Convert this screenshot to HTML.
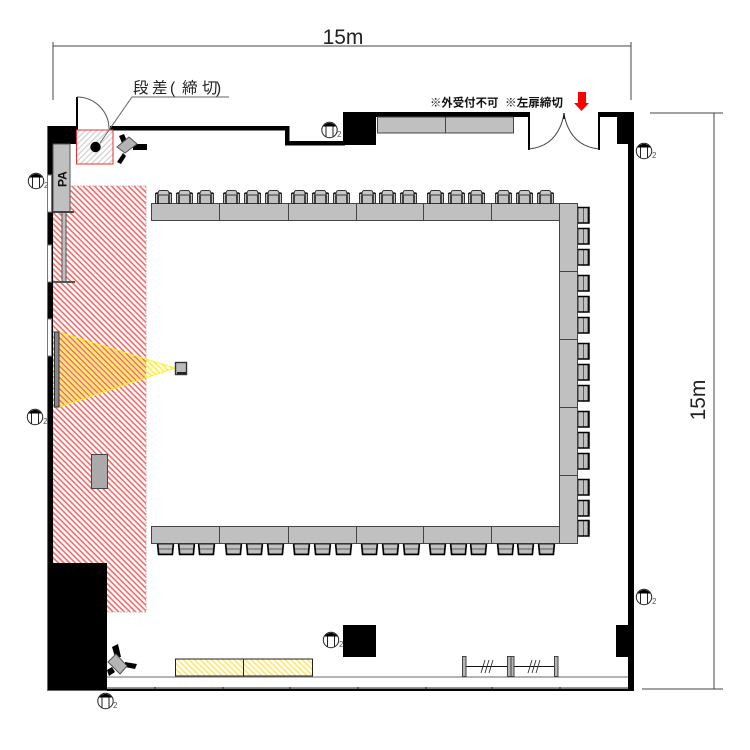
<!DOCTYPE html>
<html>
<head>
<meta charset="utf-8">
<style>
html,body{margin:0;padding:0;background:#fff;width:750px;height:750px;overflow:hidden}
svg{display:block}
text{font-family:"Liberation Sans","Noto Sans CJK JP",sans-serif}
</style>
</head>
<body>
<svg width="750" height="750" viewBox="0 0 750 750" xmlns="http://www.w3.org/2000/svg">
<defs>
<pattern id="red" width="4" height="4" patternUnits="userSpaceOnUse" patternTransform="rotate(45)">
<rect width="4" height="4" fill="#fff"/><rect width="4" height="1.6" fill="#f46a6a"/>
</pattern>
<pattern id="gry" width="4" height="4" patternUnits="userSpaceOnUse" patternTransform="rotate(-45)">
<rect width="4" height="4" fill="#fff"/><rect width="4" height="1.2" fill="#cfcfcf"/>
</pattern>
<pattern id="yel" width="4" height="4" patternUnits="userSpaceOnUse" patternTransform="rotate(45)">
<rect width="4" height="4" fill="#fff"/><rect width="4" height="1.6" fill="#ffe66a"/>
</pattern>
<pattern id="yel2" width="4" height="4" patternUnits="userSpaceOnUse" patternTransform="rotate(45)">
<rect y="2" width="4" height="1.6" fill="#ffee33"/>
</pattern>
<g id="cu">
<rect x="0.5" y="3.5" width="16" height="10" fill="#c0c0c0" stroke="#333" stroke-width="1"/>
<path d="M0.7 3H3V13.5M16.3 3H14V13.5" fill="none" stroke="#000" stroke-width="1.3"/>
<path d="M3 5Q3 0.5 5 0.5H12Q14 0.5 14 5Z" fill="#c8c8c8" stroke="#333" stroke-width="1"/>
</g>
<g id="cd">
<path d="M1 0H16L15 10H2Z" fill="#c0c0c0" stroke="#222" stroke-width="1"/>
<path d="M2 5H15" stroke="#444" stroke-width="0.8"/>
<path d="M0.5 0L1.5 10.5H15.5L16.5 0" fill="none" stroke="#000" stroke-width="1.4"/>
</g>
<g id="cr">
<rect x="0" y="0.5" width="10" height="15.5" fill="#c0c0c0" stroke="#333" stroke-width="1"/>
<path d="M5.5 0.5V16" stroke="#444" stroke-width="0.8"/>
<path d="M0 0.5H11V16H0" fill="none" stroke="#000" stroke-width="1.5"/>
</g>
<g id="tri">
<circle cx="0" cy="0" r="7.7" fill="#fff" stroke="#222" stroke-width="1"/>
<path d="M-6.5 -3.5A7.7 7.7 0 0 1 6.5 -3.5Z" fill="#000"/>
<path d="M-3.5 -3.5V7M3.5 -3.5V7" stroke="#222" stroke-width="1"/>
</g>
</defs>

<!-- stage hatch -->
<rect x="53" y="186" width="93" height="426" fill="url(#red)" stroke="#b9a5a5" stroke-width="0.8" stroke-dasharray="2 1"/>

<!-- projector beam -->
<polygon points="59,332 59,407 175,368" fill="url(#yel2)" stroke="#ffee22" stroke-width="1"/>
<rect x="54.5" y="332" width="4.5" height="75" fill="#888" stroke="#333" stroke-width="1"/>
<rect x="175.5" y="362.5" width="11" height="12" fill="#bbb" stroke="#333" stroke-width="1.4"/>
<rect x="177" y="372" width="9" height="2" fill="#222"/>

<!-- walls -->
<g fill="#000">
<rect x="47" y="126" width="30" height="18"/>
<rect x="47" y="126" width="6" height="564"/>
<rect x="76" y="97" width="2" height="33"/>
<rect x="110" y="126" width="179" height="4.5"/>
<rect x="285" y="126" width="4.5" height="19"/>
<rect x="285" y="141" width="60" height="4.5"/>
<rect x="343" y="112" width="33" height="33"/>
<rect x="343" y="112" width="187" height="5"/>
<rect x="528" y="112" width="2" height="38"/>
<rect x="598" y="112" width="2" height="38"/>
<rect x="598" y="112" width="35" height="5"/>
<rect x="617" y="112" width="16" height="32"/>
<rect x="628" y="112" width="6" height="578"/>
<rect x="47" y="563" width="60" height="128"/>
<rect x="107" y="688.5" width="527" height="2.5"/>
<rect x="343" y="625" width="33" height="32"/>
<rect x="616" y="625" width="14" height="32"/>
</g>
<path d="M47.5 126V690.5H107" fill="none" stroke="#666" stroke-width="1"/>

<!-- windows -->
<g fill="#fff" stroke="#777" stroke-width="1">
<rect x="47.5" y="175" width="4" height="37"/>
<rect x="47.5" y="245" width="4" height="37"/>
<rect x="47.5" y="319" width="4" height="37"/>
</g>

<!-- door + step -->
<path d="M77 97A32 32 0 0 1 109 129" fill="none" stroke="#555" stroke-width="1"/>
<rect x="76.5" y="130" width="36.5" height="34" fill="url(#gry)" stroke="#f03030" stroke-width="1"/>
<circle cx="95.5" cy="147" r="5.2" fill="#000"/>
<path d="M229 97H132L100 143" fill="none" stroke="#666" stroke-width="1"/>
<text y="93" font-size="15.5" fill="#222" x="133 152 170 182 202 216">段差(締切)</text>

<!-- PA and partition -->
<rect x="53" y="144" width="17" height="68" fill="#c0c0c0" stroke="#555" stroke-width="1"/>
<text transform="translate(66.5,187) rotate(-90)" font-size="12" font-weight="bold" fill="#111">PA</text>
<rect x="62" y="212" width="4" height="70" fill="#c0c0c0" stroke="#555" stroke-width="1"/>
<rect x="53" y="211" width="21" height="2" fill="#444"/>
<rect x="53" y="281" width="22" height="2" fill="#555"/>

<!-- speakers -->
<rect x="133" y="144" width="14" height="6" fill="#000"/>
<polygon points="119,136 124,134 127,141 122,143" fill="#000"/>
<polygon points="117,162 123,153 126,156 121,164" fill="#000"/>
<polygon points="129,137 137,144 125,153 117,147" fill="#b4b4b4" stroke="#555" stroke-width="1"/>

<polygon points="112,647 118,644 121,657 115,657" fill="#000"/>
<polygon points="125,662 137,664 135,669 125,667" fill="#000"/>
<polygon points="107,670 112,667 115,672 109,676" fill="#000"/>
<polygon points="116,654 127,666 120,674 108,662" fill="#b4b4b4" stroke="#555" stroke-width="1"/>

<!-- wall tables top -->
<rect x="377.5" y="117" width="136" height="16" fill="#c0c0c0" stroke="#444" stroke-width="1"/>
<path d="M445.5 117V133" stroke="#444"/>

<!-- double door -->
<path d="M529 149Q558 146 564 114Q570 146 599 149" fill="none" stroke="#444" stroke-width="1"/>
<path d="M564 113V119" stroke="#000" stroke-width="1.2"/>

<!-- notice -->
<text x="430" y="106.5" font-size="11.4" font-weight="bold" fill="#111">※外受付不可</text>
<text x="505" y="106.5" font-size="11.6" font-weight="bold" fill="#111">※左扉締切</text>
<polygon points="578,92 586,92 586,103 589,103 581.5,111 574,103 578,103" fill="#f00"/>

<!-- tables -->
<g fill="#c0c0c0" stroke="#444" stroke-width="1">
<rect x="151.5" y="203.5" width="408" height="17"/>
<rect x="151.5" y="526.5" width="408" height="17"/>
<rect x="559.5" y="203.5" width="18" height="340"/>
</g>
<path d="M219.5 203.5V220.5M288.5 203.5V220.5M356.5 203.5V220.5M423.5 203.5V220.5M491.5 203.5V220.5M219.5 526.5V543.5M288.5 526.5V543.5M356.5 526.5V543.5M423.5 526.5V543.5M491.5 526.5V543.5M559.5 271.5H577.5M559.5 339.5H577.5M559.5 407.5H577.5M559.5 475.5H577.5" stroke="#444" stroke-width="1" fill="none"/>

<!-- top chairs -->
<g>
<use href="#cu" x="155" y="190"/><use href="#cu" x="176" y="190"/><use href="#cu" x="197" y="190"/>
<use href="#cu" x="223" y="190"/><use href="#cu" x="244" y="190"/><use href="#cu" x="265" y="190"/>
<use href="#cu" x="291" y="190"/><use href="#cu" x="312" y="190"/><use href="#cu" x="333" y="190"/>
<use href="#cu" x="359" y="190"/><use href="#cu" x="379" y="190"/><use href="#cu" x="400" y="190"/>
<use href="#cu" x="427" y="190"/><use href="#cu" x="448" y="190"/><use href="#cu" x="468" y="190"/>
<use href="#cu" x="495" y="190"/><use href="#cu" x="516" y="190"/><use href="#cu" x="537" y="190"/>
</g>
<!-- bottom chairs -->
<g>
<use href="#cd" x="157" y="544"/><use href="#cd" x="178" y="544"/><use href="#cd" x="198" y="544"/>
<use href="#cd" x="225" y="544"/><use href="#cd" x="246" y="544"/><use href="#cd" x="267" y="544"/>
<use href="#cd" x="293" y="544"/><use href="#cd" x="314" y="544"/><use href="#cd" x="335" y="544"/>
<use href="#cd" x="361" y="544"/><use href="#cd" x="382" y="544"/><use href="#cd" x="403" y="544"/>
<use href="#cd" x="429" y="544"/><use href="#cd" x="450" y="544"/><use href="#cd" x="470" y="544"/>
<use href="#cd" x="497" y="544"/><use href="#cd" x="517" y="544"/><use href="#cd" x="538" y="544"/>
</g>
<!-- right chairs -->
<g>
<use href="#cr" x="578" y="207"/><use href="#cr" x="578" y="228"/><use href="#cr" x="578" y="249"/>
<use href="#cr" x="578" y="275"/><use href="#cr" x="578" y="296"/><use href="#cr" x="578" y="317"/>
<use href="#cr" x="578" y="343"/><use href="#cr" x="578" y="364"/><use href="#cr" x="578" y="385"/>
<use href="#cr" x="578" y="411"/><use href="#cr" x="578" y="432"/><use href="#cr" x="578" y="453"/>
<use href="#cr" x="578" y="479"/><use href="#cr" x="578" y="500"/><use href="#cr" x="578" y="520"/>
</g>

<!-- lectern -->
<rect x="91.5" y="454.5" width="16" height="34" fill="#aaa" stroke="#444" stroke-width="1"/>

<!-- bottom rail -->
<path d="M107 677H628" stroke="#888" stroke-width="1.2"/>
<path d="M107 687.5H628" stroke="#999" stroke-width="1"/>
<path d="M155 687V689M223 687V689M290 687V689M358 687V689M426 687V689M492 687V689M560 687V689" stroke="#222" stroke-width="1"/>

<!-- yellow table -->
<rect x="175.5" y="659" width="137" height="17" fill="url(#yel)" stroke="#222" stroke-width="1"/>
<path d="M243.5 659V676" stroke="#222" stroke-width="1"/>

<!-- stanchions -->
<g fill="#b5b5b5" stroke="#444" stroke-width="1">
<rect x="462.5" y="656.5" width="3.5" height="20"/>
<rect x="507.5" y="656.5" width="3.5" height="20"/>
<rect x="511" y="656.5" width="3" height="20"/>
<rect x="554.5" y="656.5" width="3.5" height="20"/>
</g>
<path d="M466 666.5H507M514 666.5H554" stroke="#111" stroke-width="1"/>
<path d="M481 673L485 660M485 673L489 660M489 673L493 660M528 673L532 660M532 673L536 660M536 673L540 660" stroke="#333" stroke-width="0.9"/>

<!-- outlets -->
<use href="#tri" x="36" y="181"/><text x="44" y="188" font-size="8" fill="#555">2</text>
<use href="#tri" x="35" y="417"/><text x="43" y="424" font-size="8" fill="#555">2</text>
<use href="#tri" x="329.5" y="130"/><text x="337" y="137" font-size="8" fill="#555">2</text>
<use href="#tri" x="644" y="151"/><text x="652" y="158" font-size="8" fill="#555">2</text>
<use href="#tri" x="644" y="597"/><text x="652" y="604" font-size="8" fill="#555">2</text>
<use href="#tri" x="331" y="640"/><text x="339" y="647" font-size="8" fill="#555">2</text>
<use href="#tri" x="105.5" y="701"/><text x="113" y="708" font-size="8" fill="#555">2</text>

<!-- dimensions -->
<path d="M53 42V100M631 42V100M53 46H631" stroke="#444" stroke-width="1" fill="none"/>
<path d="M650 113H723M642 689H723M714 113V689" stroke="#444" stroke-width="1" fill="none"/>
<text x="343" y="44" font-size="21" text-anchor="middle" fill="#222">15m</text>
<text transform="translate(705,400) rotate(-90)" font-size="21" text-anchor="middle" fill="#222">15m</text>
</svg>
</body>
</html>
